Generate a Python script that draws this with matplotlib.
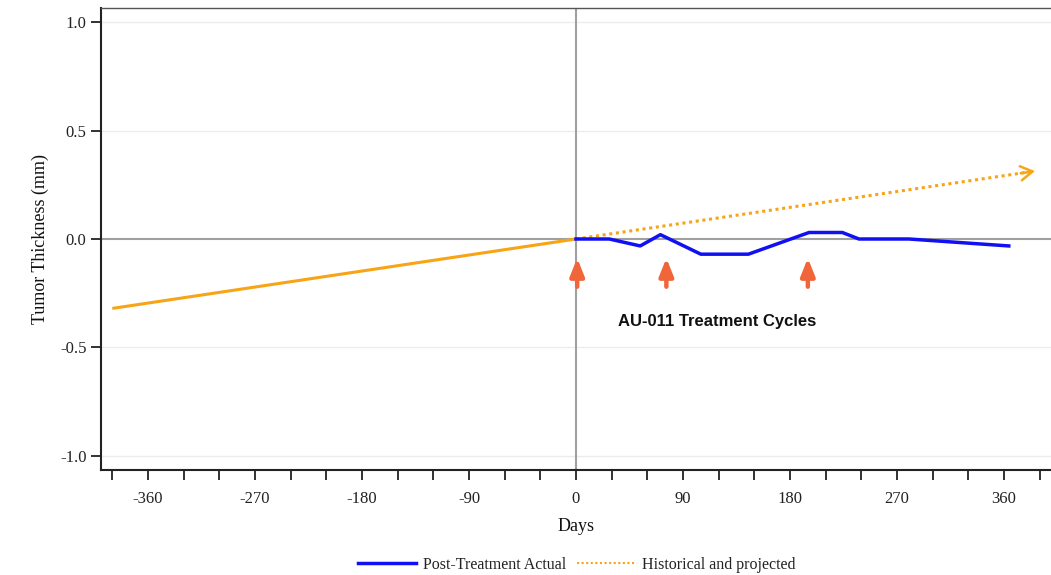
import matplotlib
matplotlib.use("Agg")
import matplotlib.pyplot as plt
import numpy as np
from matplotlib.lines import Line2D

# Data
actual_days = [0, 28, 54, 71, 105, 145, 196, 224, 238, 280, 364]
actual_vals = [0.0, 0.0, -0.032, 0.02, -0.07, -0.07, 0.03, 0.03, 0.0, 0.0, -0.032]
hist_days = [-390, 0]
hist_vals = [-0.32, 0.0]
proj_days = [0, 386]
proj_vals = [0.0, 0.313]
cycle_days = [1, 76, 195]
x_ticks = list(range(-390, 400, 30))
x_labels_major = [-360, -270, -180, -90, 0, 90, 180, 270, 360]
y_ticks = [-1.0, -0.5, 0.0, 0.5, 1.0]

W, H = 1051, 575
fig = plt.figure(figsize=(W / 100, H / 100), dpi=100)
ax = fig.add_axes([101 / W, 1 - 470 / H, (1051 - 101) / W, (470 - 8) / H])

serif = ["Liberation Serif", "DejaVu Serif"]

ax.set_xlim(-399.5, 399.5)
ax.set_ylim(-1.065, 1.065)

for yv in y_ticks:
    if yv != 0:
        ax.axhline(yv, color="#ececec", lw=1, zorder=0)
ax.axhline(0, color="#a0a0a0", lw=1.5, zorder=1)
ax.axvline(0, color="#a0a0a0", lw=1.5, zorder=1)

orange = "#F7A417"
ax.plot(hist_days, hist_vals, color=orange, lw=2.2, zorder=3, solid_capstyle="butt")
ax.plot(proj_days, proj_vals, color=orange, lw=2.2, ls=(0, (1, 1.2)), zorder=3)
ax.annotate("", xy=(proj_days[-1], proj_vals[-1]),
            xytext=(proj_days[-1] - 12, proj_vals[-1] - 0.01),
            arrowprops=dict(arrowstyle="->,head_width=0.3,head_length=0.5",
                            color=orange, lw=1.8, mutation_scale=17,
                            shrinkA=0, shrinkB=0), zorder=3)

ax.plot(actual_days, actual_vals, color="#1010F2", lw=2.5, zorder=4)

arrow_col = "#F0663A"
for d in cycle_days:
    ax.annotate("", xy=(d, -0.088), xytext=(d, -0.22),
                arrowprops=dict(arrowstyle="-|>,head_width=0.3,head_length=0.75",
                                color=arrow_col, lw=3.2, mutation_scale=14,
                                shrinkA=0, shrinkB=0), zorder=5)

ax.text(119, -0.38, "AU-011 Treatment Cycles", ha="center", va="center",
        fontsize=12, fontweight="bold", family=["Liberation Sans", "DejaVu Sans"],
        color="#111111")

ax.set_xticks(x_ticks)
ax.set_xticklabels([str(t) if t in x_labels_major else "" for t in x_ticks])
ax.set_yticks(y_ticks)
ax.set_yticklabels([f"{v:.1f}" for v in y_ticks])
ax.tick_params(axis="both", direction="out", length=7, width=1.3, color="#222222",
               labelsize=12, labelcolor="#222222")
ax.tick_params(axis="x", pad=8)
for lab in ax.get_xticklabels() + ax.get_yticklabels():
    lab.set_family(serif)

for s in ["left", "bottom", "top"]:
    ax.spines[s].set_color("#222222")
    ax.spines[s].set_linewidth(1.5)
ax.spines["top"].set_color("#555555")
ax.spines["top"].set_linewidth(1)
ax.spines["right"].set_visible(False)

ax.set_xlabel("Days", fontsize=13, family=serif, color="#111111", labelpad=8)
ax.set_ylabel("Tumor Thickness (mm)", fontsize=13, family=serif, color="#111111", labelpad=8)

handles = [Line2D([], [], color="#1010F2", lw=2.5),
           Line2D([], [], color=orange, lw=1.5, ls=(0, (1, 1.2)))]
leg = fig.legend(handles, ["Post-Treatment Actual", "Historical and projected"],
                 loc="center", bbox_to_anchor=(577 / W, 1 - 565 / H), ncol=2,
                 frameon=False, prop={"family": serif, "size": 11.5},
                 handlelength=3.6, columnspacing=0.7, handletextpad=0.45)
for t in leg.get_texts():
    t.set_color("#222222")

fig.savefig("out.png", dpi=100)
